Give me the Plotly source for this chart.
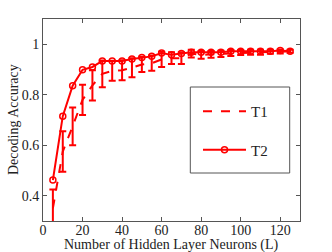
import plotly.graph_objects as go

neurons = [5, 10, 15, 20, 25, 30, 35, 40, 45, 50, 55, 60, 65, 70, 75, 80, 85, 90, 95, 100, 105, 110, 115, 120, 125]
t1_mean = [0.35, 0.575, 0.675, 0.78, 0.837, 0.883, 0.895, 0.897, 0.907, 0.92, 0.925, 0.94, 0.945, 0.945, 0.963,
           0.958, 0.96, 0.962, 0.965, 0.967, 0.968, 0.968, 0.97, 0.971, 0.972]
t1_err = [0.075, 0.08, 0.075, 0.06, 0.06, 0.053, 0.04, 0.04, 0.038, 0.03, 0.03, 0.03, 0.023, 0.023, 0.015,
          0.015, 0.013, 0.012, 0.012, 0.01, 0.01, 0.01, 0.008, 0.008, 0.006]
t2_mean = [0.462, 0.715, 0.836, 0.899, 0.91, 0.934, 0.934, 0.934, 0.942, 0.948, 0.952, 0.965, 0.958, 0.963, 0.968,
           0.968, 0.968, 0.968, 0.972, 0.972, 0.972, 0.972, 0.972, 0.975, 0.972]
x_ticks = [0, 20, 40, 60, 80, 100, 120]
y_ticks = [0.4, 0.6, 0.8, 1.0]
y_tick_text = ["0.4", "0.6", "0.8", "1"]
x_title = "Number of Hidden Layer Neurons (L)"
y_title = "Decoding Accuracy"

RED = "#ff0000"
FONT = "Liberation Serif, DejaVu Serif, serif"
TXT = "#222222"

fig = go.Figure()
fig.add_trace(go.Scatter(
    x=neurons, y=t1_mean, name="T1", mode="lines",
    line=dict(color=RED, width=2, dash="dash"),
    error_y=dict(type="data", array=t1_err, visible=True, color=RED, thickness=2, width=3.5),
    legendgroup="a",
))
fig.add_trace(go.Scatter(
    x=neurons, y=t2_mean, name="T2", mode="lines+markers",
    line=dict(color=RED, width=2),
    marker=dict(symbol="circle-open", size=6, color=RED, line=dict(width=1.5, color=RED)),
    legendgroup="b",
))

axis_common = dict(
    showline=True, linecolor="#555555", linewidth=1, mirror="ticks",
    ticks="inside", ticklen=4, tickcolor="#555555", showgrid=False, zeroline=False,
    tickfont=dict(family=FONT, size=14, color=TXT),
)
fig.update_xaxes(range=[0, 130], tickvals=x_ticks, ticklabelstandoff=-4, **axis_common)
fig.update_yaxes(range=[0.3, 1.1], tickvals=y_ticks, ticktext=y_tick_text, **axis_common)

# axis titles
fig.add_annotation(text=x_title, xref="paper", yref="paper", x=0.5, y=(221 - 245) / 202,
                   xanchor="center", yanchor="middle", showarrow=False,
                   font=dict(family=FONT, size=14, color=TXT))
fig.add_annotation(text=y_title, xref="paper", yref="paper", x=(13 - 43) / 257, y=0.5,
                   xanchor="center", yanchor="middle", showarrow=False, textangle=-90,
                   font=dict(family=FONT, size=14, color=TXT))

# legend box
fig.add_shape(type="rect", xref="paper", yref="paper",
              x0=(190.3 - 43) / 257, x1=(289.7 - 43) / 257,
              y0=(221 - 173) / 202, y1=(221 - 87) / 202,
              line=dict(color="#555555", width=1), fillcolor="white", layer="above")

fig.update_layout(
    width=332, height=252,
    margin=dict(l=43, r=32, t=19, b=31, autoexpand=False),
    paper_bgcolor="white", plot_bgcolor="white",
    font=dict(family=FONT, size=14, color=TXT),
    showlegend=True,
    legend=dict(x=(198 - 43) / 257, y=(221 - 95) / 202, xanchor="left", yanchor="top",
                bgcolor="rgba(0,0,0,0)", borderwidth=0, tracegroupgap=16,
                font=dict(family=FONT, size=15, color=TXT), itemwidth=43),
)

fig.write_html("out.html", config={"displayModeBar": False},
               post_script="document.body.style.margin='0';")
